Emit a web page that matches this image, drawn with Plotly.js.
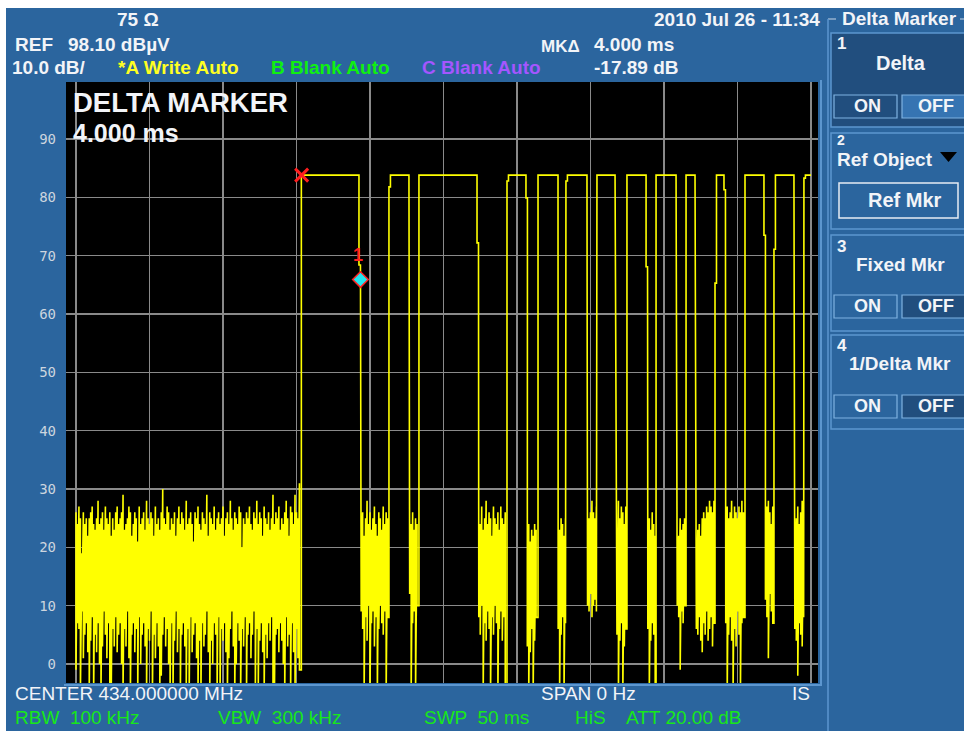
<!DOCTYPE html>
<html>
<head>
<meta charset="utf-8">
<script src="https://cdn.plot.ly/plotly-3.0.1.min.js"></script>
<style>
  html, body { margin: 0; padding: 0; background: #ffffff; }
  #chart { width: 964px; height: 731px; }
</style>
</head>
<body>
<div id="chart"></div>
<script>
// ---- Sweep settings (zero span, 50 ms sweep) ----
const sweepTime = 50;          // ms
const sampleStep = 0.1;        // ms per sweep point
const edgeStep = 0.1;          // ms, width of a one-point shoulder on an edge
const topLevel = 83.8;         // dBµV, level of the carrier bursts

// ---- Carrier-on pulses ----
const pulseRise = [15.33, 21.29, 23.33, 29.32, 31.43, 33.33, 35.44, 37.48, 39.46, 41.50, 43.47, 45.51, 47.48, 49.52];
const pulseFall = [19.25, 22.65, 27.28, 30.61, 32.79, 34.76, 36.67, 38.78, 40.82, 42.11, 44.08, 46.80, 48.84, 50.00];
const riseStep  = [null, 81.8, null, 82.8, null, 82.8, null, null, null, null, 65.3, null, 71.1, 83.3];
const fallStep  = [68.4, null, 72.2, 79.9, null, null, null, 68.1, null, null, 81.3, 73.5, null, null];

// ---- Noise between the pulses: start time, then peak / pit per sweep point ----
const burstStart = [0.0, 19.4, 22.7, 27.4, 30.7, 32.8, 34.8, 36.8, 38.9, 40.9, 42.2, 44.2, 46.9, 48.9];

const peak0 = [
  26,24,27,25,19,26,24,25,22,25, 26,27,24,23,25,28,24,25,26,23,
  27,25,24,26,22,25,23,26,27,24, 25,26,29,23,24,25,27,26,22,24,
  26,25,21,27,24,25,26,23,28,25, 24,26,25,22,27,24,25,23,26,30,
  25,24,27,26,23,25,24,26,22,25, 27,24,26,25,23,28,24,25,26,24,
  21,26,25,27,24,23,26,25,24,29, 22,26,25,24,27,23,25,26,24,25,
  27,22,25,26,24,28,25,23,26,25, 24,27,26,20,25,24,26,25,27,24,
  23,26,25,28,24,26,25,22,27,25, 24,26,23,25,29,24,26,25,27,23,
  25,24,26,28,25,22,27,26,24,29, 26,25,31
];
const pit0 = [
  -1,7,6,-5,9,1,5,7,2,-5,   4,8,-5,5,2,7,0,-5,3,9,
  5,1,7,-5,-4,6,3,8,2,5,    7,0,-5,6,3,9,1,-5,5,7,
  2,6,-5,8,0,5,7,3,-5,6,    4,9,-5,5,1,7,3,-5,-2,5,
  8,3,6,0,-5,7,-5,4,9,2,    6,-5,5,7,3,-4,6,-5,8,2,
  5,7,1,-5,4,-5,7,3,5,9,    2,-5,4,0,7,5,-5,8,-5,6,
  4,7,2,-5,1,6,9,3,-5,0,    7,4,-5,6,3,8,-5,5,7,1,
  5,9,-5,6,-4,4,7,2,-5,5,   1,7,4,8,-5,-5,5,6,2,7,
  4,0,-5,8,3,5,-5,7,2,-5,   6,1,-1
];
const peak1 = [24,26,22,25,28,24,26,23,25,27,24,22,26,25,23,27,24,26,25];
const pit1  = [9,6,-5,8,4,10,-5,7,9,3,8,-5,6,10,7,5,9,-5,8];
const peak2 = [25,24,26,23,25,24];
const pit2  = [12,-5,7,9,-5,10];
const peak3 = [26,24,27,23,25,28,24,26,25,22,27,25,24,26,23,27,25,24,26];
const pit3  = [8,5,10,-5,7,4,9,6,-5,8,5,10,7,-5,6,9,4,8,-5];
const peak4 = [22,24,21,23,22,24,23];
const pit4  = [3,-5,2,6,-5,4,8];
const peak5 = [24,23,25,24,22,25];
const pit5  = [6,-5,5,8,-5,7];
const peak6 = [27,25,26,28,26,25,27];
const pit6  = [10,9,12,8,10,11,9];
const peak7 = [26,28,25,27,26,24,27];
const pit7  = [5,-5,4,7,-5,3,6];
const peak8 = [22,25,23,26,24,22];
const pit8  = [6,-5,4,7,5,-5];
const peak9 = [24,22,25,23,24,25];
const pit9  = [10,8,-1,9,7,10];
const peak10 = [22,23,24,22,25,26,25,27,26,28,27,26,28];
const pit10  = [6,5,8,4,2,7,5,9,4,6,8,3,7];
const peak11 = [26,27,25,26,28,25,27,26,25,27,26,28,26];
const pit11  = [7,-5,5,8,4,-5,6,3,9,5,-5,7,8];
const peak12 = [25,27,28,26,24,27];
const pit12  = [11,8,1,12,9,7];
const peak13 = [23,25,27,24,26,28,25];
const pit13  = [6,4,-2,7,5,3,8];

const noisePeak = [peak0, peak1, peak2, peak3, peak4, peak5, peak6, peak7, peak8, peak9, peak10, peak11, peak12, peak13];
const noisePit  = [pit0, pit1, pit2, pit3, pit4, pit5, pit6, pit7, pit8, pit9, pit10, pit11, pit12, pit13];

// ---- Markers ----
const refMarkerTime = 15.35;   // ms
const refMarkerLevel = 83.80;  // dBµV
const deltaTime = 4.000;       // ms
const deltaLevel = -17.89;     // dB

// ---- Axis ----
const yTicks = [0, 10, 20, 30, 40, 50, 60, 70, 80, 90];
const xGrid = [0, 5, 10, 15, 20, 25, 30, 35, 40, 45, 50];

// Build trace A (peak/pit per point, straight edges on the pulses)
const tx = [], ty = [];
function add(x, y) { tx.push(x); ty.push(y); }
for (let i = 0; i < burstStart.length; i++) {
  const pk = noisePeak[i], pt = noisePit[i];
  const n = Math.min(pk.length, pt.length);
  for (let j = 0; j < n; j++) {
    const t = burstStart[i] + j * sampleStep;
    add(t, pk[j]);
    add(t, pt[j]);
  }
  const r = pulseRise[i];
  add(r, ty[ty.length - 1]);
  if (riseStep[i] !== null) {
    add(r, riseStep[i]);
    add(r + edgeStep, riseStep[i]);
    add(r + edgeStep, topLevel);
  } else {
    add(r, topLevel);
  }
  const f = pulseFall[i];
  add(f, topLevel);
  if (fallStep[i] !== null) {
    add(f, fallStep[i]);
    add(f + edgeStep, fallStep[i]);
  }
}

// ---- Screen geometry helpers (pixel -> paper) ----
const PL = 66, PR = 818, PT = 82, PB = 683;
const px = x => (x - PL) / (PR - PL);
const py = y => (PB - y) / (PB - PT);

const BLUE = '#2b659e';
const DITHER = '#214e7e';
const LIGHT = '#5c96cf';
const WHITE = '#f2f4f8';
const FONT = 'Liberation Sans, Arial, sans-serif';

const shapes = [];
function rect(x0, y0, x1, y1, fill, line, lw, layer) {
  shapes.push({type: 'rect', xref: 'paper', yref: 'paper',
    x0: px(x0), x1: px(x1), y0: py(y1), y1: py(y0),
    fillcolor: fill, line: {color: line || 'rgba(0,0,0,0)', width: lw || 0},
    layer: layer || 'above'});
}
function seg(x0, y0, x1, y1, color, w) {
  shapes.push({type: 'line', xref: 'paper', yref: 'paper',
    x0: px(x0), x1: px(x1), y0: py(y0), y1: py(y1),
    line: {color: color, width: w}, layer: 'above'});
}

// white border of the screen image
rect(0, 0, 964, 8, '#ffffff', null, 0, 'below');
rect(0, 0, 6, 731, '#ffffff', null, 0, 'below');

// frame around the graticule
seg(821, 80, 821, 686, LIGHT, 2);
seg(64, 685, 821, 685, LIGHT, 2);

// soft-key panel frame
seg(828, 19, 836, 19, '#c8d6e6', 1);
seg(960, 19, 964, 19, '#c8d6e6', 1);
seg(828, 19, 828, 731, LIGHT, 1.5);

// key boxes
rect(831, 33, 965, 127, DITHER, LIGHT, 1.5);
rect(834, 95, 897, 118, DITHER, '#7fb2e2', 1.2);
rect(902, 95, 965, 118, '#3674b2', '#7fb2e2', 1.2);

rect(831, 133, 965, 229, BLUE, LIGHT, 1.5);
rect(839, 183, 958, 218, BLUE, '#e6ecf4', 1.5);

rect(831, 235, 965, 331, BLUE, LIGHT, 1.5);
rect(834, 295, 897, 318, BLUE, '#7fb2e2', 1.2);
rect(902, 295, 965, 318, DITHER, '#7fb2e2', 1.2);

rect(831, 335, 965, 429, BLUE, LIGHT, 1.5);
rect(834, 395, 897, 418, BLUE, '#7fb2e2', 1.2);
rect(902, 395, 965, 418, DITHER, '#7fb2e2', 1.2);

// triangle for the drop-down
shapes.push({type: 'path', xref: 'paper', yref: 'paper',
  path: `M ${px(940)} ${py(152)} L ${px(957)} ${py(152)} L ${px(948.5)} ${py(162)} Z`,
  fillcolor: '#000000', line: {width: 0}, layer: 'above'});

const annotations = [];
function txt(text, x, y, opts) {
  opts = opts || {};
  annotations.push({
    text: text, xref: 'paper', yref: 'paper', x: px(x), y: py(y),
    xanchor: opts.anchor || 'left', yanchor: 'middle', showarrow: false,
    borderpad: 0,
    font: {family: opts.family || FONT, size: opts.size || 19,
           color: opts.color || WHITE, weight: opts.weight || 'bold'}
  });
}

// header
txt('75 Ω', 116, 19);
txt('REF', 14, 44);
txt('98.10 dBµV', 67, 44);
txt('10.0 dB/', 11, 67);
txt('*A Write Auto', 117, 67, {color: '#ffff22'});
txt('B Blank Auto', 270, 67, {color: '#10f010'});
txt('C Blank Auto', 421, 67, {color: '#a456ff'});
txt('2010 Jul 26 - 11:34', 821, 19, {anchor: 'right'});
txt('MKΔ', 540, 46, {size: 17});
txt(deltaTime.toFixed(3) + ' ms', 593, 44);
txt(deltaLevel.toFixed(2) + ' dB', 593, 67);

// marker readout in the graticule
txt('DELTA MARKER', 72, 103, {size: 27.5});
txt(deltaTime.toFixed(3) + ' ms', 72, 133, {size: 25});

// footer
const FOOT = {size: 19, weight: 'normal'};
txt('CENTER 434.000000 MHz', 14, 693, FOOT);
txt('SPAN 0 Hz', 540, 693, FOOT);
txt('IS', 791, 693, FOOT);
const GREEN = '#18e818';
const FOOTG = {size: 19, weight: 'normal', color: GREEN};
txt('RBW  100 kHz', 14, 717, FOOTG);
txt('VBW  300 kHz', 217, 717, FOOTG);
txt('SWP  50 ms', 423, 717, FOOTG);
txt('HiS', 574, 717, FOOTG);
txt('ATT 20.00 dB', 625, 717, FOOTG);

// soft keys
txt('Delta Marker', 899, 18, {anchor: 'center', size: 19});
txt('1', 836, 43, {size: 17});
txt('Delta', 901, 63, {anchor: 'center', size: 20});
txt('ON', 867, 106, {anchor: 'center', size: 18});
txt('OFF', 936, 106, {anchor: 'center', size: 18});
txt('2', 836, 140, {size: 14});
txt('Ref Object', 836, 159, {size: 19});
txt('Ref Mkr', 905, 200, {anchor: 'center', size: 20});
txt('3', 836, 246, {size: 17});
txt('Fixed Mkr', 900, 264, {anchor: 'center', size: 19});
txt('ON', 867, 306, {anchor: 'center', size: 18});
txt('OFF', 936, 306, {anchor: 'center', size: 18});
txt('4', 836, 345, {size: 17});
txt('1/Delta Mkr', 900, 363, {anchor: 'center', size: 19});
txt('ON', 867, 406, {anchor: 'center', size: 18});
txt('OFF', 936, 406, {anchor: 'center', size: 18});

// "1" tag above the delta marker (data coordinates)
const mkT = refMarkerTime + deltaTime;
const mkL = refMarkerLevel + deltaLevel;
annotations.push({text: '1', x: mkT, y: mkL, xref: 'x', yref: 'y',
  showarrow: false, yshift: 25, xshift: -2, xanchor: 'center', yanchor: 'middle',
  font: {family: FONT, size: 18, color: '#ff1e1e', weight: 'bold'}});

const traces = [
  {x: tx, y: ty, type: 'scatter', mode: 'lines',
   line: {color: '#ffff00', width: 1.6, shape: 'linear'}, hoverinfo: 'skip'},
  {x: [refMarkerTime], y: [refMarkerLevel], type: 'scatter', mode: 'markers',
   marker: {symbol: 'x-thin', size: 13, line: {color: '#ff1e1e', width: 3}}, hoverinfo: 'skip'},
  {x: [mkT], y: [mkL], type: 'scatter', mode: 'markers',
   marker: {symbol: 'diamond', size: 12, color: '#22e6f0', line: {color: '#ff2020', width: 1.5}}, hoverinfo: 'skip'}
];

const layout = {
  width: 964, height: 731,
  margin: {l: PL, r: 964 - PR, t: PT, b: 731 - PB, pad: 0},
  paper_bgcolor: BLUE, plot_bgcolor: '#000000',
  showlegend: false,
  xaxis: {range: [(66 - 76) / 14.7, (818 - 76) / 14.7], tickvals: xGrid, showticklabels: false,
          showgrid: true, gridcolor: '#8a8a8a', gridwidth: 1.4, zeroline: false,
          showline: false, ticks: ''},
  yaxis: {range: [(664 - 683) / 5.8333, (664 - 82) / 5.8333], tickvals: yTicks,
          ticktext: yTicks.map(String), showgrid: true, gridcolor: '#8a8a8a', gridwidth: 1.4,
          zeroline: false, showline: false, ticks: '', ticklabelstandoff: 9,
          tickfont: {family: 'DejaVu Sans Mono, monospace', size: 14, color: '#cdd5df'}},
  shapes: shapes, annotations: annotations
};

Plotly.newPlot('chart', traces, layout, {displayModeBar: false, staticPlot: true});
</script>
</body>
</html>
